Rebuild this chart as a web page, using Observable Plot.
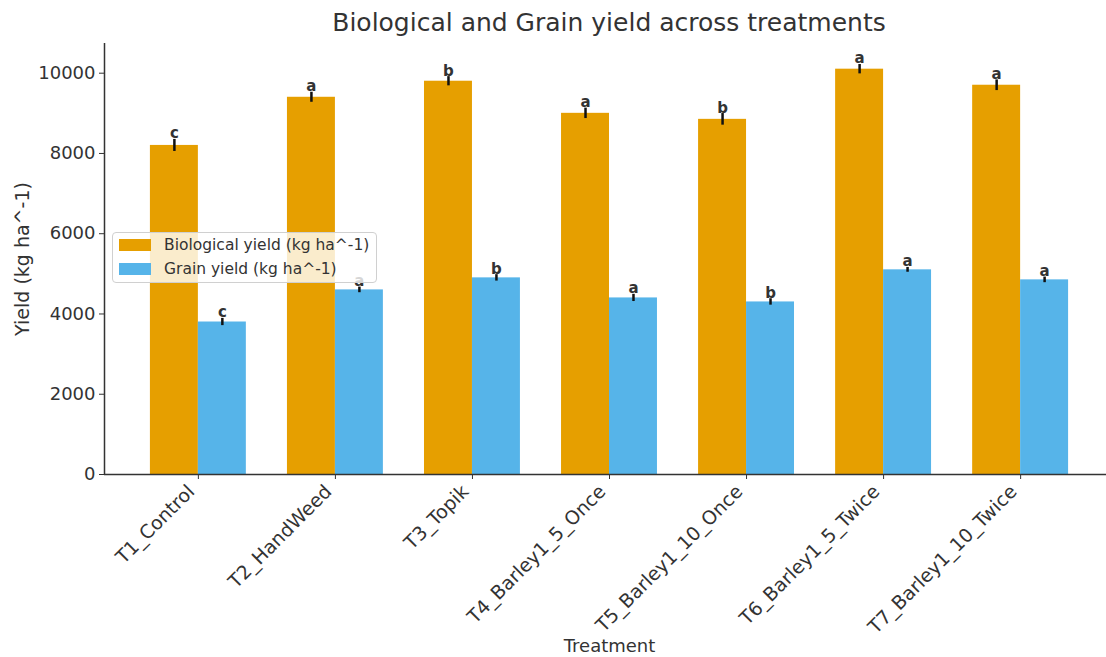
<!DOCTYPE html>
<html>
<head>
<meta charset="utf-8">
<script src="https://cdn.jsdelivr.net/npm/d3@7"></script>
<script src="https://cdn.jsdelivr.net/npm/@observablehq/plot@0.6"></script>
<style>
  html, body { margin: 0; padding: 0; background: #fff; }
  #wrap { position: relative; width: 1106px; height: 657px; overflow: hidden; font-family: "DejaVu Sans", sans-serif; }
  #title { position: absolute; left: 0; top: 0; width: 1218px; height: 40px; text-align: center;
           font-size: 25px; line-height: 45px; color: #333; }
  #chart { position: absolute; left: 0; top: 40px; width: 1114px; }
  #chart svg { max-width: none; }
  #legend { position: absolute; left: 112px; top: 232px; width: 263px; height: 49px;
            background: rgba(255,255,255,0.8); border: 1px solid #d0d0d0; border-radius: 4px;
            font-size: 15.5px; color: #333; }
  .item { position: absolute; left: 6px; height: 14px; display: flex; align-items: center; }
  .sw { width: 32px; height: 12px; margin-right: 13px; }
</style>
</head>
<body>
<div id="wrap">
  <div id="title">Biological and Grain yield across treatments</div>
  <div id="chart"></div>
  <div id="legend"></div>
</div>
<script>
// Treatments and yields (kg ha^-1), with standard errors and mean-separation letters
const treatments = ["T1_Control", "T2_HandWeed", "T3_Topik", "T4_Barley1_5_Once",
                    "T5_Barley1_10_Once", "T6_Barley1_5_Twice", "T7_Barley1_10_Twice"];
const biologicalYield = [8200, 9400, 9800, 9000, 8850, 10100, 9700];
const grainYield      = [3800, 4600, 4900, 4400, 4300, 5100, 4850];
const biologicalErr   = [150, 125, 115, 130, 145, 117, 133];
const grainErr        = [90, 70, 80, 90, 80, 60, 70];
const biologicalLetters = ["c", "a", "b", "a", "b", "a", "a"];
const grainLetters      = ["c", "a", "b", "a", "b", "a", "a"];
const yTicks = [0, 2000, 4000, 6000, 8000, 10000];

const seriesNames = ["Biological yield (kg ha^-1)", "Grain yield (kg ha^-1)"];
const seriesColors = ["#E69F00", "#56B4E9"];

// Grouped bars: each bar is 0.35 wide, placed either side of the group centre
const barWidth = 0.35;
const rows = [];
treatments.forEach((t, i) => {
  rows.push({treatment: t, i, series: seriesNames[0], value: biologicalYield[i], err: biologicalErr[i],
             letter: biologicalLetters[i], left: i - barWidth, right: i});
  rows.push({treatment: t, i, series: seriesNames[1], value: grainYield[i], err: grainErr[i],
             letter: grainLetters[i], left: i, right: i + barWidth});
});
rows.forEach(d => d.center = (d.left + d.right) / 2);

const xDomain = [-0.685, treatments.length - 1 + 0.685];
const yDomain = [0, 10740];
const groupTicks = d3.range(treatments.length);
const ink = "#333";

const plot = Plot.plot({
  width: 1114,
  height: 617,
  marginLeft: 104,
  marginRight: 0,
  marginTop: 3,
  marginBottom: 183,
  style: {fontFamily: "DejaVu Sans, sans-serif", color: ink, background: "transparent", maxWidth: "none"},
  x: {type: "linear", domain: xDomain},
  y: {domain: yDomain},
  color: {domain: seriesNames, range: seriesColors},
  marks: [
    Plot.rectY(rows, {x1: "left", x2: "right", y1: 0, y2: "value", fill: "series"}),
    Plot.text(rows, {x: "center", y: d => d.value + d.err, text: "letter", lineAnchor: "bottom",
                     dy: -1, fontWeight: "bold", fontSize: 15, fill: ink}),
    Plot.ruleX(rows, {x: "center", y1: d => d.value - d.err, y2: d => d.value + d.err,
                      stroke: "#111", strokeWidth: 2.5}),
    Plot.ruleY([yDomain[0]], {stroke: ink, strokeWidth: 1.5}),
    Plot.ruleX([xDomain[0]], {stroke: ink, strokeWidth: 1.5}),
    Plot.axisY({ticks: yTicks, tickSize: 5, tickPadding: 4, fontSize: 18, label: null,
                tickFormat: d => String(d)}),
    // tick marks at the group centres
    Plot.axisX({ticks: groupTicks, tickSize: 5, tickFormat: () => "", label: null}),
    // rotated treatment names, right end anchored just below each tick
    Plot.axisX({ticks: groupTicks, tickFormat: i => treatments[i], tickSize: 0, tickPadding: 12,
                tickRotate: -45, dx: -7, dy: 2, fontSize: 19, label: null}),
    Plot.text(["Treatment"], {frameAnchor: "bottom", dy: 172, lineAnchor: "middle", fontSize: 18, fill: ink}),
    Plot.text(["Yield (kg ha^-1)"], {frameAnchor: "left", dx: -82, rotate: -90, textAnchor: "middle",
                                     fontSize: 19, fill: ink})
  ]
});
document.getElementById("chart").appendChild(plot);

// Legend box overlaid on the plot area
const legend = document.getElementById("legend");
seriesNames.forEach((name, k) => {
  const item = document.createElement("div");
  item.className = "item";
  item.style.top = (5 + k * 24) + "px";
  item.innerHTML = `<span class="sw" style="background:${seriesColors[k]}"></span><span>${name}</span>`;
  legend.appendChild(item);
});
</script>
</body>
</html>
